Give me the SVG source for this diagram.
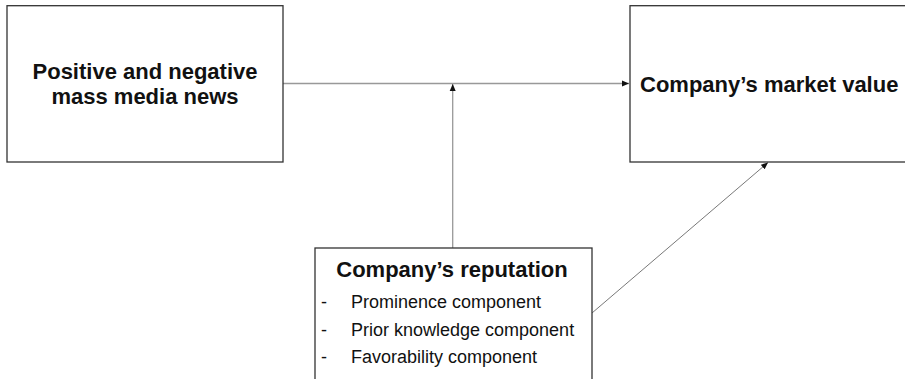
<svg xmlns="http://www.w3.org/2000/svg" width="905" height="379" viewBox="0 0 905 379">
<defs>
<style>
.box{fill:#fff;stroke:#333;stroke-width:1.3}
.t{font-family:"Liberation Sans",Arial,sans-serif;fill:#111}
.b{font-weight:bold;font-size:22px}
.r{font-size:18px}
.c{fill:none;stroke:#999;stroke-width:1.3}
.d{fill:none;stroke:#555;stroke-width:0.8}
</style>
<marker id="ah" markerWidth="8" markerHeight="8" refX="7" refY="4" orient="auto" markerUnits="userSpaceOnUse">
<path d="M0,1 L7,4 L0,7 Z" fill="#111"/>
</marker>
</defs>
<rect width="905" height="379" fill="#fff"/>
<g id="connectors">
<line class="c" x1="283" y1="83.5" x2="629" y2="83.5" marker-end="url(#ah)"/>
<line class="c" x1="452.7" y1="248" x2="452.7" y2="84" marker-end="url(#ah)"/>
<line class="d" x1="592" y1="313" x2="768" y2="162.5" marker-end="url(#ah)"/>
</g>
<g id="news">
<rect class="box" x="7" y="5.7" width="276" height="156.3"/>
<text class="t b" x="145" y="79" text-anchor="middle">Positive and negative</text>
<text class="t b" x="145" y="104" text-anchor="middle">mass media news</text>
</g>
<g id="market">
<rect class="box" x="630" y="5.7" width="290" height="156.3"/>
<text class="t b" x="640" y="92">Company’s market value</text>
</g>
<g id="reputation">
<rect class="box" x="315" y="248" width="277" height="150"/>
<text class="t b" x="452" y="277" text-anchor="middle">Company’s reputation</text>
<text class="t r" x="321" y="308">-</text>
<text class="t r" x="351" y="308">Prominence component</text>
<text class="t r" x="321" y="336">-</text>
<text class="t r" x="351" y="336">Prior knowledge component</text>
<text class="t r" x="321" y="363">-</text>
<text class="t r" x="351" y="363">Favorability component</text>
</g>
</svg>
